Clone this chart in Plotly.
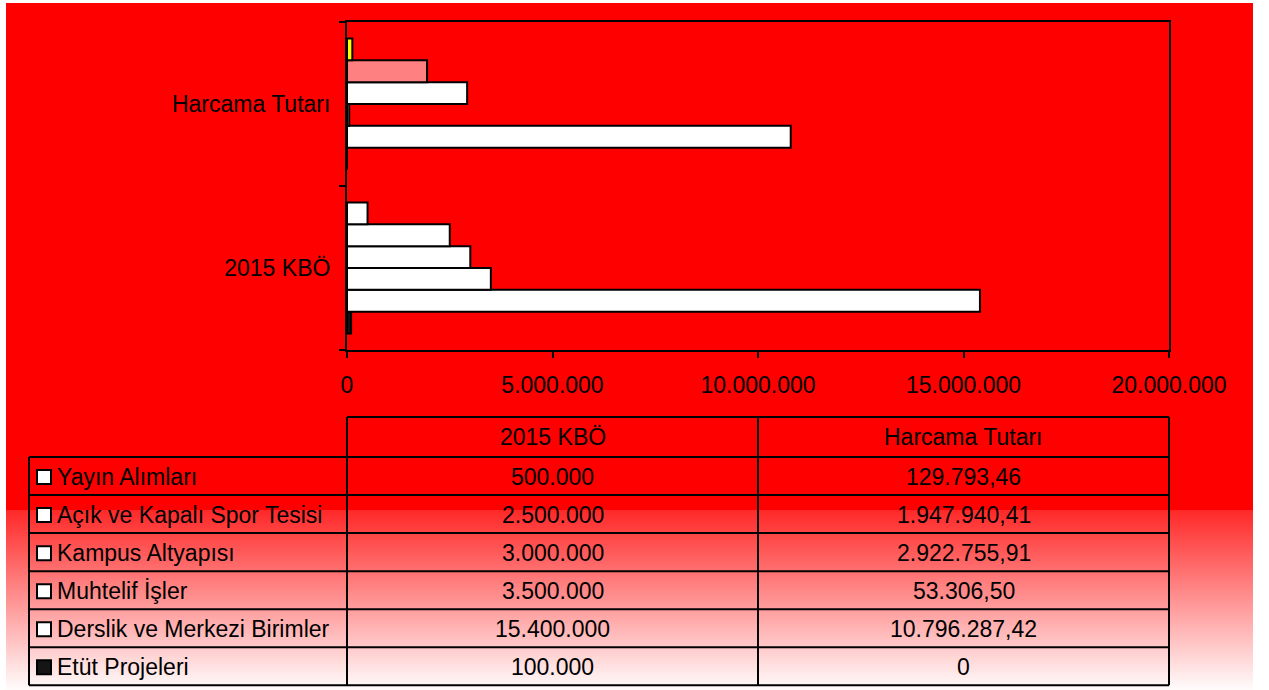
import plotly.graph_objects as go

# ---------------- data ----------------
categories = ["2015 KBÖ", "Harcama Tutarı"]
series_names = [
    "Yayın Alımları",
    "Açık ve Kapalı Spor Tesisi",
    "Kampus Altyapısı",
    "Muhtelif İşler",
    "Derslik ve Merkezi Birimler",
    "Etüt Projeleri",
]
kbo_values = [500000, 2500000, 3000000, 3500000, 15400000, 100000]
harcama_values = [129793.46, 1947940.41, 2922755.91, 53306.50, 10796287.42, 0]
x_tick_values = [0, 5000000, 10000000, 15000000, 20000000]

# ---------------- styles ----------------
# per-point colours: [2015 KBÖ, Harcama Tutarı]
point_colors = [
    ["#FFFFFF", "#FFFF00"],
    ["#FFFFFF", "#FF8080"],
    ["#FFFFFF", "#FFFFFF"],
    ["#FFFFFF", "#FFFFFF"],
    ["#FFFFFF", "#FFFFFF"],
    ["#111111", "#111111"],
]
key_colors = ["#FFFFFF", "#FFFFFF", "#FFFFFF", "#FFFFFF", "#FFFFFF", "#151515"]

FONT = "Liberation Sans, Arial, sans-serif"
FS = 23
W_FIG, H_FIG = 1269, 690
L, R, T, B = 347, 1169, 22, 350


def px_x(px):
    return (px - L) / (R - L)


def px_y(py):
    return (B - py) / (B - T)


def tr_format(v):
    if float(v).is_integer():
        return f"{int(v):,}".replace(",", ".")
    s = f"{v:,.2f}"
    return s.replace(",", "X").replace(".", ",").replace("X", ".")


fig = go.Figure()

# traces added bottom-to-top so that the first series sits at the top of each group
for i in reversed(range(len(series_names))):
    fig.add_trace(
        go.Bar(
            orientation="h",
            y=categories,
            x=[kbo_values[i], harcama_values[i]],
            name=series_names[i],
            marker=dict(color=point_colors[i], line=dict(color="black", width=2)),
            showlegend=False,
        )
    )

shapes = []
# background: red with a gradient to white at the bottom
shapes.append(dict(type="rect", xref="paper", yref="paper", layer="below",
                   x0=px_x(6), x1=px_x(1253), y0=px_y(3), y1=px_y(511),
                   fillcolor="#FF0000", line=dict(width=0)))
g0, g1, step = 510, 692, 2
for y in range(g0, g1, step):
    f = min(1.0, (y + step / 2 - g0) / (g1 - g0))
    v = min(255, int(round(40 + 215 * f)))
    shapes.append(dict(type="rect", xref="paper", yref="paper", layer="below",
                       x0=px_x(6), x1=px_x(1253), y0=px_y(y), y1=px_y(y + step + 0.5),
                       fillcolor=f"rgb(255,{v},{v})", line=dict(width=0)))

# ---------------- data table ----------------
tbl_left, col1, col2, tbl_right = 29, 347, 758, 1169
head_top, head_bot = 417, 457
row_h = 38.05
n_rows = len(series_names)
row_edges = [head_bot + k * row_h for k in range(n_rows + 1)]
line_style = dict(color="black", width=2)


def hline(x0, x1, y):
    shapes.append(dict(type="line", xref="paper", yref="paper",
                       x0=px_x(x0), x1=px_x(x1), y0=px_y(y), y1=px_y(y), line=line_style))


def vline(x, y0, y1):
    shapes.append(dict(type="line", xref="paper", yref="paper",
                       x0=px_x(x), x1=px_x(x), y0=px_y(y0), y1=px_y(y1), line=line_style))


hline(col1, tbl_right, head_top)
for ye in row_edges:
    hline(tbl_left, tbl_right, ye)
vline(tbl_left, head_bot, row_edges[-1])
vline(col1, head_top, row_edges[-1])
vline(col2, head_top, row_edges[-1])
vline(tbl_right, head_top, row_edges[-1])

annotations = []


def add_text(x, y, text, anchor="center"):
    annotations.append(dict(xref="paper", yref="paper", x=px_x(x), y=px_y(y),
                            text=text, showarrow=False, xanchor=anchor, yanchor="middle",
                            font=dict(family=FONT, size=FS, color="black")))


add_text((col1 + col2) / 2, (head_top + head_bot) / 2, categories[0])
add_text((col2 + tbl_right) / 2, (head_top + head_bot) / 2, categories[1])

for i, name in enumerate(series_names):
    yc = row_edges[i] + row_h / 2 + 1
    shapes.append(dict(type="rect", xref="paper", yref="paper",
                       x0=px_x(37), x1=px_x(51), y0=px_y(yc - 7), y1=px_y(yc + 7),
                       fillcolor=key_colors[i], line=dict(color="black", width=2)))
    add_text(55, yc, name, anchor="left")
    add_text((col1 + col2) / 2, yc, tr_format(kbo_values[i]))
    add_text((col2 + tbl_right) / 2, yc, tr_format(harcama_values[i]))

fig.update_layout(
    width=W_FIG,
    height=H_FIG,
    margin=dict(l=L, r=W_FIG - R, t=T, b=H_FIG - B, autoexpand=False),
    paper_bgcolor="white",
    plot_bgcolor="rgba(0,0,0,0)",
    barmode="group",
    bargap=0.2,
    bargroupgap=0,
    separators=",.",
    font=dict(family=FONT, size=FS, color="black"),
    shapes=shapes,
    annotations=annotations,
    showlegend=False,
)

fig.update_xaxes(
    range=[0, 20000000],
    tickvals=x_tick_values,
    ticktext=[tr_format(v) for v in x_tick_values],
    ticks="outside",
    ticklen=6,
    tickwidth=2,
    tickcolor="black",
    showline=True,
    linecolor="black",
    linewidth=2,
    mirror=True,
    showgrid=False,
    zeroline=False,
    tickfont=dict(family=FONT, size=FS, color="black"),
    ticklabelstandoff=7,
    fixedrange=True,
)
fig.update_yaxes(
    type="category",
    categoryorder="array",
    categoryarray=categories,
    range=[-0.5, 1.5],
    tickson="boundaries",
    ticks="outside",
    ticklen=6,
    tickwidth=2,
    tickcolor="black",
    showline=True,
    linecolor="black",
    linewidth=2,
    mirror=True,
    showgrid=False,
    zeroline=False,
    tickfont=dict(family=FONT, size=FS, color="black"),
    ticklabelstandoff=10,
    fixedrange=True,
)

fig.write_html(
    "out.html",
    config={"displayModeBar": False},
    post_script="document.body.style.margin='0';document.body.style.overflow='hidden';",
)
